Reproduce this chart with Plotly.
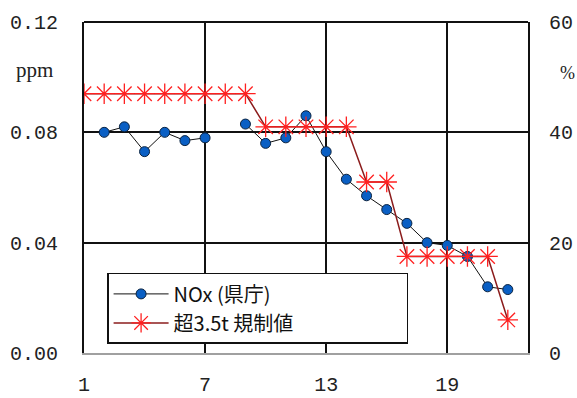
import plotly.graph_objects as go

# Day index along the x axis
days = [1, 2, 3, 4, 5, 6, 7, 8, 9, 10, 11, 12, 13, 14, 15, 16, 17, 18, 19, 20, 21, 22]
# NOx concentration at the prefectural office (ppm); no reading on days 1 and 8
nox_ppm = [None, 0.080, 0.082, 0.073, 0.080, 0.077, 0.078, None, 0.083, 0.076, 0.078,
           0.086, 0.073, 0.063, 0.057, 0.052, 0.047, 0.040, 0.039, 0.035, 0.024, 0.023]
# Share of vehicles over 3.5 t exceeding the regulation (%)
over_limit_pct = [47, 47, 47, 47, 47, 47, 47, 47, 47, 41, 41, 41, 41, 41,
                  31, 31, 17.5, 17.5, 17.5, 17.5, 17.5, 6]

x_ticks = [1, 7, 13, 19]
left_ticks = [0, 0.04, 0.08, 0.12]
left_labels = ["0.00", "0.04", "0.08", "0.12"]
right_ticks = [0, 20, 40, 60]

num_font = dict(family="Liberation Mono", size=20, color="#222222")
jp_font = "Noto Sans CJK JP"

fig = go.Figure()
fig.add_trace(go.Scatter(
    x=days, y=nox_ppm, name="NOx (県庁)", mode="lines+markers",
    connectgaps=False,
    line=dict(color="#111111", width=1),
    marker=dict(symbol="circle", size=10, color="#0a5fc4",
                line=dict(color="#0b2340", width=1)),
    yaxis="y",
))
fig.add_trace(go.Scatter(
    x=days, y=over_limit_pct, name="超3.5t 規制値", mode="lines+markers",
    line=dict(color="#8b1c1c", width=1.5),
    marker=dict(symbol="asterisk-open", size=17, color="#ff2020",
                line=dict(color="#ff2020", width=1.3)),
    yaxis="y2",
))

fig.update_layout(
    template="none",
    width=577, height=398,
    margin=dict(l=84, r=49, t=22, b=45, autoexpand=False),
    paper_bgcolor="white", plot_bgcolor="white",
    showlegend=True,
    legend=dict(
        x=0.052, y=0.242, xanchor="left", yanchor="top",
        orientation="h", entrywidth=228,
        bgcolor="white", bordercolor="#111111", borderwidth=1.5,
        font=dict(family=jp_font, size=20, color="#111111"),
        itemwidth=55, tracegroupgap=0,
    ),
    xaxis=dict(
        range=[1, 23], tickvals=x_ticks, ticktext=[str(v) for v in x_ticks],
        showgrid=True, gridcolor="#111111", gridwidth=1.5,
        showline=True, linecolor="#a0a0a0", linewidth=2,
        zeroline=False, ticks="", tickfont=num_font, ticklabelstandoff=12,
        automargin=False,
    ),
    yaxis=dict(
        range=[0, 0.12], tickvals=left_ticks, ticktext=left_labels,
        showgrid=True, gridcolor="#111111", gridwidth=1.5,
        showline=True, linecolor="#111111", linewidth=2,
        zeroline=False, ticks="", tickfont=num_font, ticklabelstandoff=20,
        automargin=False,
    ),
    yaxis2=dict(
        range=[0, 60], tickvals=right_ticks, ticktext=[str(v) for v in right_ticks],
        overlaying="y", side="right", showgrid=False,
        showline=True, linecolor="#111111", linewidth=2,
        zeroline=False, ticks="", tickfont=num_font, ticklabelstandoff=15,
        automargin=False,
    ),
    shapes=[
        dict(type="line", xref="paper", yref="paper", x0=0, x1=1, y0=1, y1=1,
             line=dict(color="#111111", width=2)),
    ],
    annotations=[
        dict(text="ppm", xref="paper", yref="paper", x=-0.112, y=0.855,
             xanchor="center", yanchor="middle", showarrow=False,
             font=dict(family="Liberation Serif", size=21, color="#222222")),
        dict(text="%", xref="paper", yref="paper", x=1.09, y=0.845,
             xanchor="center", yanchor="middle", showarrow=False,
             font=dict(family="Liberation Serif", size=18, color="#222222")),
    ],
)

fig.write_html("out.html")
